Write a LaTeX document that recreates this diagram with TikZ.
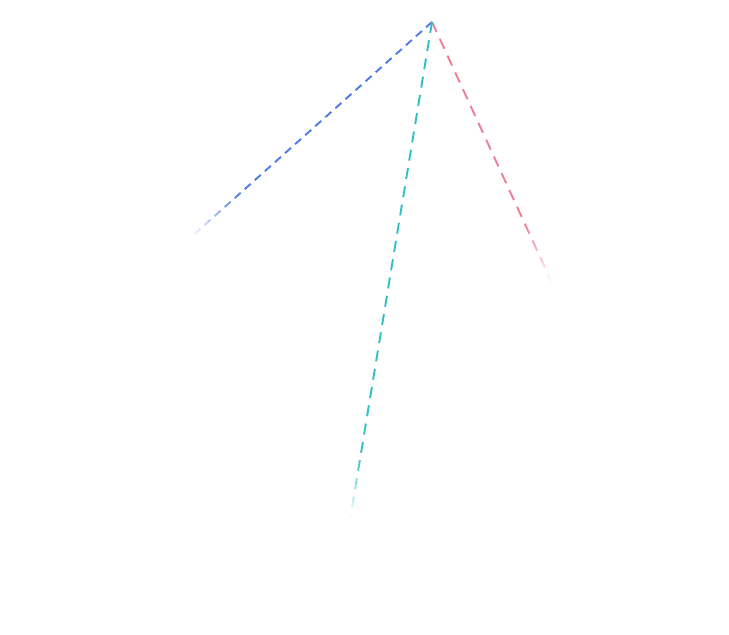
\documentclass[tikz,border=0pt]{standalone}
\usetikzlibrary{calc}
\definecolor{cblue}{HTML}{5079EA}
\definecolor{cteal}{HTML}{2EC0C6}
\definecolor{cpink}{HTML}{F07D96}
\tikzset{ray/.style={line width=1.9pt, line cap=butt}}
\newcommand{\fadingray}[6]{%
  \pgfmathsetmacro{\fstart}{(#4-65)/#4}%
  \draw[ray,draw=#3,dash pattern=on #5pt off #6pt] (#1) -- ($(#1)!\fstart!(#2)$);%
  \foreach \k in {0,...,25}{%
    \pgfmathsetmacro{\ta}{(#4-65+\k*2.5)/#4}%
    \pgfmathsetmacro{\tb}{(#4-65+(\k+1)*2.5)/#4}%
    \pgfmathsetmacro{\pc}{max(0,100*(1-(\k+0.5)/26))}%
    \pgfmathsetmacro{\ph}{#4-65+\k*2.5}%
    \draw[ray,draw=#3!\pc!white,dash pattern=on #5pt off #6pt,dash phase=\ph pt] ($(#1)!\ta!(#2)$) -- ($(#1)!\tb!(#2)$);%
  }%
}
\begin{document}
\begin{tikzpicture}[x=1pt,y=-1pt]
\useasboundingbox (0,0) rectangle (729,635);
\coordinate (apex) at (432,22);
\coordinate (bend) at (190,238);
\coordinate (pend) at (553,285);
\coordinate (tend) at (350,520);
\fadingray{apex}{bend}{cblue}{324.4}{8}{5.5}
\fadingray{apex}{pend}{cpink}{289.5}{11}{7.5}
\fadingray{apex}{tend}{cteal}{504.7}{11}{7.5}
\end{tikzpicture}
\end{document}
